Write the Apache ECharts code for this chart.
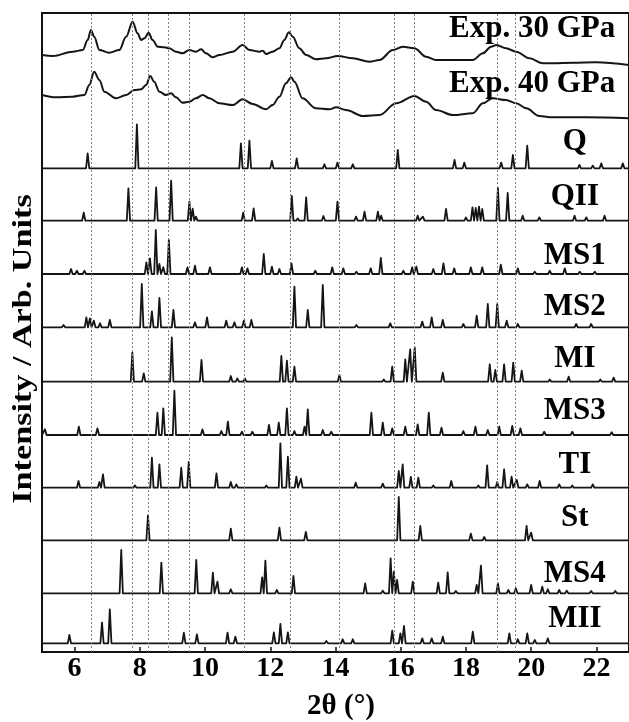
<!DOCTYPE html>
<html>
<head>
<meta charset="utf-8">
<script src="https://cdn.jsdelivr.net/npm/echarts@6/dist/echarts.min.js"></script>
<style>
  html, body { margin: 0; padding: 0; background: #fff; }
  #chart { width: 629px; height: 722px; }
</style>
</head>
<body>
<div id="chart"></div>
<script>
// trace names, top to bottom
const names = ['Exp. 30 GPa', 'Exp. 40 GPa', 'Q', 'QII', 'MS1', 'MS2', 'MI', 'MS3', 'TI', 'St', 'MS4', 'MII'];

// experimental patterns: [2theta, intensity]
const exp30 = [[5.0,11],[5.33,10],[5.94,14.3],[6.25,16],[6.40,26],[6.50,36],[6.60,29.3],[6.76,16],[7.06,13.3],[7.37,16],[7.58,29.3],[7.78,44.3],[7.93,32.7],[8.04,26],[8.14,27.7],[8.27,33.3],[8.39,26],[8.55,19.3],[8.75,18.7],[8.90,17.7],[9.11,14.3],[9.31,12.7],[9.52,16],[9.72,14.3],[9.88,16.7],[10.03,12.7],[10.23,8.7],[10.44,11],[10.85,14.3],[11.15,21],[11.36,16],[11.67,14.3],[11.77,15.3],[11.87,12],[12.07,14.3],[12.28,17.7],[12.43,26],[12.57,33.7],[12.69,29.3],[12.89,17.7],[13.10,11],[13.40,6.7],[13.71,7.7],[14.07,10],[14.53,7.7],[15.04,4.3],[15.35,6],[15.76,16],[16.06,19.3],[16.42,17.7],[16.78,9.3],[17.08,6],[18.21,6],[18.52,12.7],[18.77,19.3],[18.93,21],[19.23,17.7],[19.54,14.3],[19.95,7.7],[20.36,2.7],[20.66,2.7],[21.28,3.3],[21.99,3.7],[23.0,1]];
const exp40 = [[5.0,24],[5.43,21.7],[5.94,22.3],[6.30,24],[6.45,34],[6.60,47.3],[6.76,39],[6.91,27.3],[7.27,20.7],[7.58,24],[7.83,29],[8.04,29.7],[8.19,34],[8.32,43],[8.44,37.3],[8.60,27.3],[8.80,24],[8.96,25.7],[9.11,21.7],[9.31,16.3],[9.52,17.3],[9.72,20.7],[9.93,24],[10.13,20.7],[10.44,15.7],[10.85,14],[11.15,19.7],[11.46,15],[11.87,9.7],[12.07,14],[12.28,22.3],[12.48,35.7],[12.64,41.7],[12.74,37.3],[12.99,20.7],[13.40,10.7],[13.81,9.7],[14.02,11.7],[14.32,9],[14.84,3],[15.35,4],[15.86,15.7],[16.42,23],[16.78,17.3],[17.08,9],[17.60,4],[18.21,5.7],[18.52,15.7],[18.82,20.7],[19.23,19],[19.54,15.7],[19.85,10.7],[20.25,3],[20.66,1.7],[21.69,1.7],[23.0,0.7]];

// simulated patterns: peak lists [2theta, height]
const peaksQ = [[6.40,15],[7.91,44],[11.10,25],[11.36,27.7],[12.05,7.3],[12.81,10],[13.66,4],[14.06,5.7],[14.53,4],[15.35,1.7],[15.91,18.3],[17.03,1.7],[17.65,8.3],[17.95,5.7],[19.08,5.7],[19.44,13.3],[19.88,22.7],[21.48,3.3],[21.89,2.7],[22.15,5],[22.81,5]];
const peaksQII = [[6.02,1.7],[6.28,8],[7.65,32.3],[8.50,33.3],[8.96,40],[9.52,19],[9.62,12],[9.72,4],[11.17,8],[11.49,12.3],[12.13,1.7],[12.66,24.7],[12.84,2.3],[13.10,23.3],[13.63,4.7],[14.06,19],[14.63,4],[14.89,9],[15.30,9],[15.40,5],[16.52,5],[16.68,4],[17.39,11.7],[18.0,3.3],[18.2,13.3],[18.3,12.7],[18.4,14],[18.5,11.7],[18.98,32.7],[19.28,27.7],[19.74,5],[20.25,3.3],[21.33,5],[21.69,3.3],[22.25,5],[22.86,1.7]];
const peaksMS1 = [[5.89,5],[6.07,3.3],[6.30,3.3],[8.20,11.7],[8.31,15.7],[8.49,44],[8.60,10],[8.72,6.7],[8.89,34],[9.46,6.7],[9.69,8.3],[10.15,6.7],[10.9,1.7],[11.13,6.7],[11.3,5.7],[11.8,20],[12.05,7.3],[12.28,5],[12.65,10.7],[13.38,3.3],[13.9,6.7],[14.24,5.7],[14.64,2.3],[15.08,5.7],[15.39,16],[16.08,3.3],[16.35,6.7],[16.48,7.3],[17.0,5],[17.31,10.7],[17.64,5.7],[18.15,6.7],[18.5,6.7],[19.07,9.3],[19.59,5.7],[20.11,2.3],[20.57,3.3],[21.03,5.7],[21.49,2.3],[21.95,2.3],[22.41,1.7],[22.87,1.7]];
const peaksMS2 = [[5.66,2.3],[6.36,10],[6.47,9],[6.59,6.7],[6.78,4],[7.08,7.3],[8.06,43.3],[8.37,16],[8.60,29.3],[9.03,17.3],[9.69,5],[10.06,10],[10.65,6.7],[10.9,5],[11.19,6.7],[11.42,7.3],[12.74,40.7],[13.15,17.3],[13.61,42.3],[14.64,2.3],[15.68,4],[16.66,5.7],[16.95,10],[17.29,7.3],[17.92,3.3],[18.33,11.7],[18.67,23.3],[18.96,23.3],[19.25,6.7],[19.59,3.3],[21.38,3.3],[21.84,3.3]];
const peaksMI = [[7.77,29],[8.12,8.3],[8.98,44.3],[9.89,21.7],[10.79,5.7],[10.99,3.3],[11.22,3.3],[12.34,25.7],[12.51,21],[12.74,15],[14.12,6.7],[15.48,2.3],[15.74,15],[16.14,22.3],[16.29,32.3],[16.43,34.3],[17.29,9],[18.73,17.3],[18.9,11.7],[19.17,17.3],[19.45,19],[19.71,11],[20.57,2.3],[21.15,5],[22.12,2.3],[22.53,4]];
const peaksMS3 = [[5.09,5.7],[6.13,8.3],[6.70,6.7],[8.54,22.3],[8.72,26.7],[9.06,44.3],[9.92,5.7],[10.5,4],[10.7,13.3],[11.13,3.3],[11.45,3.3],[11.96,10],[12.26,12.3],[12.51,26.7],[12.74,4],[13.05,8.3],[13.15,25.7],[13.61,5],[13.87,3.3],[15.1,22.3],[15.45,12.3],[15.74,6.7],[16.14,8.3],[16.52,10.7],[16.86,22.3],[17.25,7.3],[17.92,4],[18.29,8.3],[18.67,5],[19.02,8.3],[19.42,9],[19.67,6.7],[20.4,3.3],[21.26,3.3],[22.47,2.7]];
const peaksTI = [[6.12,6.7],[6.76,5.7],[6.87,13.3],[7.85,2.3],[8.37,30],[8.6,23.3],[9.27,20],[9.50,25.7],[10.35,14.3],[10.79,5.7],[10.96,3.3],[11.88,2.3],[12.31,44.3],[12.54,31],[12.8,11],[12.94,9],[13.66,1.7],[14.62,5],[15.45,4],[15.94,16.7],[16.06,23.3],[16.31,10.7],[16.54,10],[17.0,2.3],[17.55,6.7],[18.38,2.3],[18.65,22.3],[18.96,5.7],[19.17,18.3],[19.4,11],[19.56,7.7],[19.88,3.3],[20.26,6.7],[20.86,3.3],[21.26,2.3],[21.89,3.3],[22.53,1.7]];
const peaksSt = [[8.25,25],[10.79,11.7],[12.28,12.7],[13.09,8.3],[15.94,43.3],[16.6,14.3],[18.15,6.7],[18.56,3.3],[19.86,14.3],[20.0,7.7],[20.69,1.7],[22.47,2]];
const peaksMS4 = [[7.43,43.3],[8.66,30.7],[9.73,33.3],[10.24,20.7],[10.38,11.7],[10.79,4],[11.75,16],[11.85,32.7],[12.2,3.3],[12.71,17.3],[14.91,10],[15.45,2.7],[15.69,35],[15.79,21.7],[15.89,13.3],[16.37,11.7],[17.15,10.7],[17.44,21],[17.69,2.3],[18.33,8.3],[18.46,27.7],[18.98,10],[19.3,3.3],[19.53,5],[20.0,8.3],[20.34,6.7],[20.51,4],[20.86,3.3],[21.09,2.7],[21.84,2.3],[22.58,2.3]];
const peaksMII = [[5.84,8.3],[6.84,20.7],[7.08,34],[9.35,10.7],[9.75,9],[10.69,10.7],[10.93,6.7],[12.11,11],[12.31,19.3],[12.54,11],[13.72,2.3],[14.22,4],[14.53,4],[15.74,12.7],[15.99,10],[16.1,17.3],[16.66,5],[16.95,5],[17.29,6.7],[18.21,11.7],[18.96,1.7],[19.33,10],[19.59,4],[19.88,10],[20.11,3.3],[20.51,5],[21.49,1],[22.58,1]];

// experimental peak positions (dotted guide lines)
const guideLines = [6.5, 7.78, 8.26, 8.86, 9.52, 11.2, 12.6, 14.1, 15.8, 16.4, 18.95, 19.5];
const xTicks = [6, 8, 10, 12, 14, 16, 18, 20, 22];

// layout: vertical offset of each trace and label centre (axis units = px above x axis)
const baseY = [586, 533, 483.7, 431.3, 378, 324.7, 270.3, 217, 164.3, 111.7, 58.7, 8.7];
const labelMid = [623.5, 568.5, 510, 455, 396, 345, 293, 241, 187, 134, 78, 33.5];
const PEAK_W = 0.05;
const FONT = '"Liberation Serif", "Times New Roman", serif';

function peakLine(peaks) {
    const pts = [[5, 0]];
    peaks.slice().sort((a, b) => a[0] - b[0]).forEach(([p, h]) => {
        pts.push([p - PEAK_W, 0], [p, h], [p + PEAK_W, 0]);
    });
    pts.push([23, 0]);
    return pts;
}

const traces = [exp30, exp40].concat(
    [peaksQ, peaksQII, peaksMS1, peaksMS2, peaksMI, peaksMS3, peaksTI, peaksSt, peaksMS4, peaksMII].map(peakLine)
);

const series = traces.map((pts, i) => ({
    name: names[i],
    type: 'line',
    showSymbol: false,
    smooth: i < 2 ? 0.35 : false,
    smoothMonotone: i < 2 ? 'x' : undefined,
    z: 3,
    lineStyle: { color: '#151515', width: i < 2 ? 2 : 1.8, join: 'round' },
    data: pts.map(([x, v]) => [x, v + baseY[i]])
}));

// dotted guides
series.push({
    type: 'line',
    data: [],
    z: 1,
    markLine: {
        silent: true,
        symbol: 'none',
        animation: false,
        label: { show: false },
        lineStyle: { color: '#808080', type: [2, 2], width: 1 },
        data: guideLines.map(v => ({ xAxis: v }))
    }
});

const chart = echarts.init(document.getElementById('chart'));
chart.setOption({
    animation: false,
    backgroundColor: '#fff',
    grid: {
        left: 42, right: -2, top: 13, bottom: 70,
        show: true, borderColor: '#111', borderWidth: 2, backgroundColor: 'transparent'
    },
    xAxis: {
        type: 'value', min: 5, max: 23,
        axisLine: { lineStyle: { color: '#111', width: 2 } },
        axisTick: { customValues: xTicks, inside: true, length: 5, lineStyle: { color: '#111', width: 1.5 } },
        axisLabel: {
            customValues: xTicks, color: '#000', fontFamily: FONT, fontWeight: 'bold', fontSize: 28, margin: 3
        },
        splitLine: { show: false }
    },
    yAxis: { type: 'value', min: 0, max: 639, show: false },
    series: series
});

// text: trace labels and axis titles
const graphics = names.map((n, i) => {
    const [px, py] = chart.convertToPixel({ gridIndex: 0 }, [i < 2 ? 20.03 : 21.34, labelMid[i]]);
    return {
        type: 'text', x: px, y: py, z: 10,
        style: {
            text: n, fill: '#000', font: 'bold 31px ' + FONT,
            textAlign: 'center', textVerticalAlign: 'middle'
        }
    };
});
graphics.push({
    type: 'text', x: 341, y: 707, z: 10,
    style: { text: '2θ (°)', fill: '#000', font: 'bold 29px ' + FONT, textAlign: 'center', textVerticalAlign: 'middle' }
});
graphics.push({
    type: 'text', x: 24, y: 349, rotation: Math.PI / 2, scaleX: 1.22, z: 10,
    style: { text: 'Intensity / Arb. Units', fill: '#000', font: 'bold 28px ' + FONT, textAlign: 'center', textVerticalAlign: 'middle' }
});
chart.setOption({ graphic: graphics });
</script>
</body>
</html>
